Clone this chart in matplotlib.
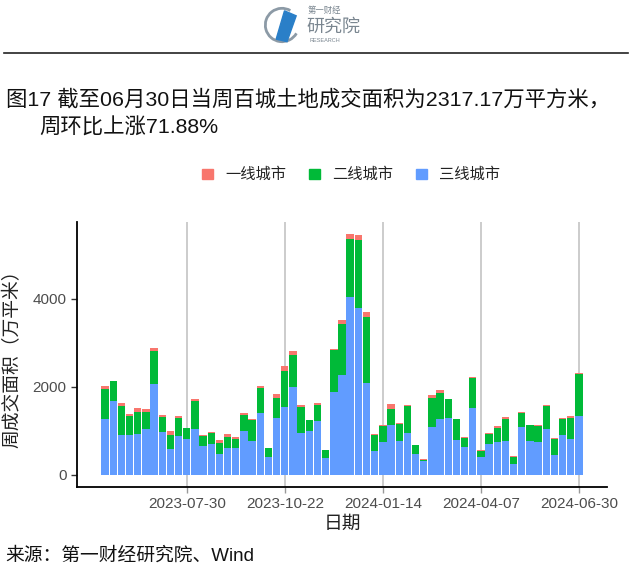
import matplotlib
matplotlib.use('Agg')
import matplotlib.pyplot as plt
import matplotlib.dates as mdates
import matplotlib.patches as mpatches
from matplotlib.lines import Line2D
import numpy as np
import pandas as pd

plt.rcParams['font.family'] = ['Liberation Sans', 'Noto Sans CJK SC']

# Weekly dates (week ending Sunday)
dates = pd.date_range(start='2023-05-21', end='2024-06-30', freq='W-SUN')

# 一线城市 / 二线城市 / 三线城市 weekly land transaction area (万平方米)
tier1 = [69, 10, 61, 38, 99, 84, 69, 46, 107, 53,
         8, 46, 38, 8, 76, 69, 61, 46, 30, 38,
         5, 99, 107, 84, 30, 8, 61, 5, 38, 84,
         130, 114, 114, 38, 23, 122, 30, 30, 5, 15,
         53, 69, 15, 15, 30, 23, 5, 30, 38, 46,
         5, 15, 8, 23, 30, 23, 15, 53, 15]
tier2 = [678, 460, 655, 442, 503, 389, 762, 343, 297, 419,
         244, 640, 229, 259, 229, 251, 191, 358, 472, 564,
         191, 442, 823, 739, 602, 259, 366, 175, 945, 1166,
         1318, 1539, 1509, 358, 366, 366, 381, 602, 206, 30,
         678, 594, 419, 480, 198, 686, 137, 221, 335, 503,
         160, 312, 358, 366, 518, 358, 381, 488, 972]
tier3 = [1280, 1676, 914, 907, 922, 1036, 2065, 983, 602, 876,
         823, 1044, 648, 701, 488, 617, 617, 998, 777, 1410,
         419, 1303, 1547, 1989, 953, 991, 1219, 389, 1890, 2271,
         4039, 3802, 2080, 541, 754, 1135, 777, 960, 472, 312,
         1082, 1273, 1303, 785, 640, 1516, 419, 709, 739, 777,
         259, 1097, 777, 739, 1052, 450, 899, 808, 1330]

series_names = ['一线城市', '二线城市', '三线城市']
colors = ['#F8766D', '#00BA38', '#619CFF']

tick_dates = pd.to_datetime(['2023-07-30', '2023-10-22', '2024-01-14',
                             '2024-04-07', '2024-06-30'])

fig = plt.figure(figsize=(6.4, 5.74), dpi=100)
W, H = 640, 574

ax = fig.add_axes([77 / W, 1 - 487 / H, (607 - 77) / W, (487 - 222) / H])

t1 = np.array(tier1)
t2 = np.array(tier2)
t3 = np.array(tier3)
bw = 6.3
ax.bar(dates, t3, width=bw, color=colors[2], zorder=2)
ax.bar(dates, t2, width=bw, bottom=t3, color=colors[1], zorder=2)
ax.bar(dates, t1, width=bw, bottom=t3 + t2, color=colors[0], zorder=2)

ax.set_xlim(dates[0] - pd.Timedelta(days=24), dates[-1] + pd.Timedelta(days=24))
ax.set_ylim(-273, 5750)
ax.set_xticks(tick_dates)
ax.xaxis.set_major_formatter(mdates.DateFormatter('%Y-%m-%d'))
ax.set_yticks([0, 2000, 4000])

for d in tick_dates:
    ax.axvline(d, color='#BEBEBE', lw=1.1, zorder=0)

for s in ['top', 'right']:
    ax.spines[s].set_visible(False)
ax.spines['left'].set_linewidth(1.3)
ax.spines['bottom'].set_linewidth(1.3)
ax.tick_params(axis='both', colors='#333333', labelcolor='#4D4D4D',
               labelsize=11, length=4, width=1)
ax.tick_params(axis='x', colors='#999999', labelcolor='#4D4D4D')

ax.set_xlabel('日期', fontsize=13.5, color='#222222', labelpad=3)
ax.set_ylabel('周成交面积（万平米）', fontsize=13.5, color='#222222', labelpad=8)

# legend
handles = [mpatches.Patch(color=c, label=n) for c, n in zip(colors, series_names)]
fig.legend(handles=handles, loc='center', bbox_to_anchor=(351 / W, 1 - 175 / H),
           ncol=3, frameon=False, fontsize=11, handlelength=0.7, handleheight=0.7,
           handletextpad=0.8, columnspacing=1.5, labelcolor='#222222')

# title
fig.text(6 / W, 1 - 99 / H, '图17 截至06月30日当周百城土地成交面积为2317.17万平方米，',
         fontsize=15.4, va='center', ha='left', color='#111111')
fig.text(39 / W, 1 - 128 / H, '周环比上涨71.88%',
         fontsize=15.4, va='center', ha='left', color='#111111')

# separator line
fig.add_artist(Line2D([4 / W, 628 / W], [1 - 53 / H, 1 - 53 / H],
                      color='#222222', lw=1.2))

# logo (simple approximation)
lax = fig.add_axes([262 / W, 1 - 46 / H, 40 / W, 42 / H])
lax.set_xlim(-1.2, 1.2)
lax.set_ylim(-1.2, 1.2)
lax.set_aspect('equal')
lax.axis('off')
lax.add_patch(mpatches.Arc((0, 0), 2.0, 2.0, theta1=60, theta2=330,
                           color='#8C9AA6', lw=2))
lax.add_patch(mpatches.Polygon([[-0.35, -0.85], [0.15, 0.85], [0.85, 0.55], [0.3, -1.0]],
                               closed=True, color='#2A7FC8'))
fig.text(308 / W, 1 - 11 / H, '第一财经', fontsize=6, color='#7A8690', va='center')
fig.text(306 / W, 1 - 27 / H, '研究院', fontsize=13, color='#7A8690', va='center')
fig.text(309 / W, 1 - 41 / H, 'RESEARCH', fontsize=4, color='#7A8690', va='center')

# source
fig.text(5 / W, 1 - 556 / H, '来源：第一财经研究院、Wind', fontsize=13.5,
         va='center', ha='left', color='#111111')

fig.savefig('out.png', dpi=100)
